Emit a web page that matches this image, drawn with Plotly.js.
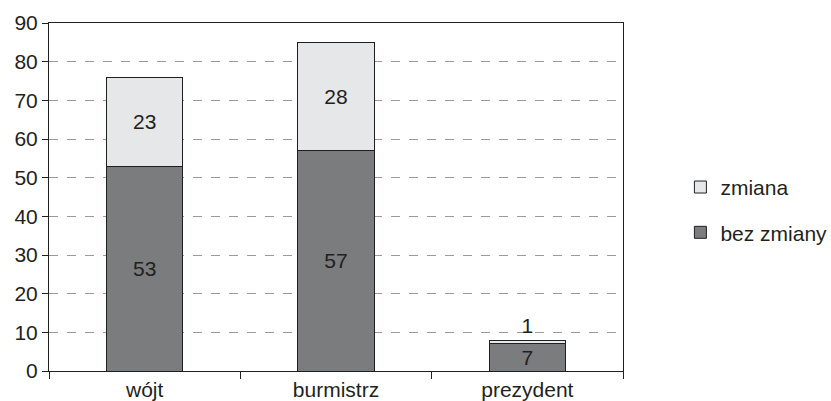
<!DOCTYPE html>
<html>
<head>
<meta charset="utf-8">
<script src="https://cdn.plot.ly/plotly-3.0.1.min.js"></script>
<style>html,body{margin:0;padding:0;background:#fff;}#chart{width:831px;height:401px;}</style>
</head>
<body>
<div id="chart"></div>
<script>
const categories = ["wójt", "burmistrz", "prezydent"];
const bezZmiany = [53, 57, 7];
const zmiana = [23, 28, 1];
const yTicks = [0, 10, 20, 30, 40, 50, 60, 70, 80, 90];

const font = {family: "Liberation Sans", size: 21, color: "#231f20"};

const traces = [
  {
    type: "bar", name: "bez zmiany", legendgroup: "b", legendrank: 2, x: categories, y: bezZmiany,
    text: bezZmiany.map(String), textposition: "inside", insidetextanchor: "middle",
    textangle: 0, insidetextfont: font, constraintext: "none",
    marker: {color: "#7b7c7e", line: {color: "#231f20", width: 1}},
    width: 0.4, hoverinfo: "none"
  },
  {
    type: "bar", name: "zmiana", legendgroup: "a", legendrank: 1, x: categories, y: zmiana,
    text: zmiana.map(String), textposition: ["inside", "inside", "outside"], insidetextanchor: "middle",
    textangle: 0, insidetextfont: font, outsidetextfont: font, constraintext: "none",
    marker: {color: "#e6e7e8", line: {color: "#231f20", width: 1}},
    width: 0.4, hoverinfo: "none", cliponaxis: false
  }
];

const layout = {
  width: 831, height: 401,
  margin: {l: 49, r: 208, t: 23, b: 30, pad: 0, autoexpand: false},
  paper_bgcolor: "#fff", plot_bgcolor: "#fff",
  font: font,
  barmode: "stack",
  showlegend: true,
  legend: {x: 1.1, y: 0.463, xanchor: "left", yanchor: "middle", traceorder: "grouped",
           font: font, tracegroupgap: 15, itemwidth: 30},
  xaxis: {
    type: "category", tickson: "boundaries", showgrid: false,
    showline: true, linecolor: "#231f20", linewidth: 1, mirror: true,
    ticks: "outside", ticklen: 7, tickcolor: "#231f20",
    tickfont: font, range: [-0.5, 2.5]
  },
  yaxis: {
    range: [0, 90], tickvals: yTicks, ticktext: yTicks.map(String),
    showgrid: true, gridcolor: "#9a9a9a", griddash: "dash", gridwidth: 1,
    showline: true, linecolor: "#231f20", linewidth: 1, mirror: true,
    ticks: "outside", ticklen: 6, tickcolor: "#231f20",
    tickfont: font, zeroline: false, fixedrange: true
  }
};

Plotly.newPlot("chart", traces, layout, {staticPlot: true});
</script>
</body>
</html>
